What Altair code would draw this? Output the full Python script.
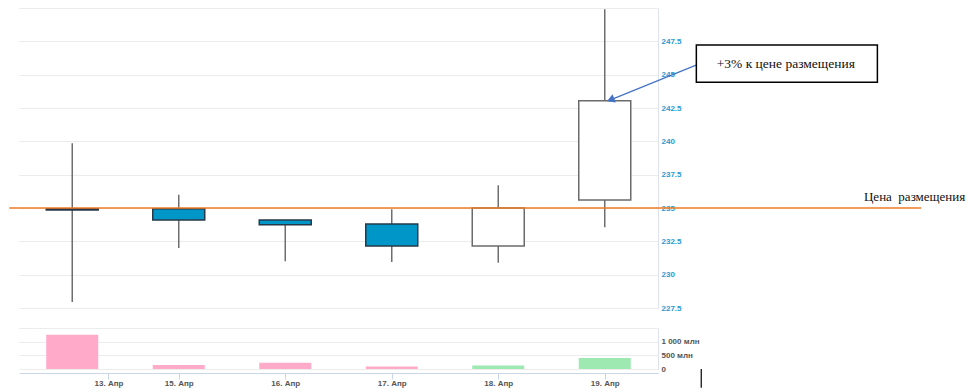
import altair as alt
import pandas as pd

# ---------------- data ----------------
candle_pos = [0, 1, 2, 3, 4, 5]
opens = [234.95, 234.95, 234.10, 233.80, 232.15, 235.60]
closes = [234.85, 234.10, 233.75, 232.15, 235.00, 243.05]
highs = [239.85, 236.00, 234.10, 234.90, 236.70, 249.90]
lows = [227.95, 232.00, 231.00, 230.95, 230.90, 233.55]
volumes = [1250, 150, 225, 90, 130, 400]  # млн

tick_pos = [0.34, 1, 2, 3, 4, 5]
tick_labels = ["13. Апр", "15. Апр", "16. Апр", "17. Апр", "18. Апр", "19. Апр"]
price_ticks = [227.5, 230, 232.5, 235, 237.5, 240, 242.5, 245, 247.5, 250]
volume_ticks = [0, 500, 1000, 1500]
placement_price = 235
placement_label = "Цена\u00a0\u00a0размещения"
note_label = "+3% к цене размещения"

df = pd.DataFrame({
    "pos": candle_pos, "open": opens, "close": closes,
    "high": highs, "low": lows, "volume": volumes,
})
df["dir"] = ["up" if c >= o else "down" for o, c in zip(opens, closes)]

# ---------------- scales / axes ----------------
xs = alt.Scale(domain=[-0.5, 5.5], nice=False, zero=False, padding=0)
ys = alt.Scale(domain=[227.5, 250], nice=False, zero=False)
vs = alt.Scale(domain=[0, 1500], nice=False)

FONT = "Liberation Sans"
price_axis = alt.Axis(
    orient="right", values=price_ticks, title=None, ticks=False,
    labelExpr="datum.value >= 250 ? '' : format(datum.value, '~g')",
    labelColor="#2a9ad0", labelFont=FONT, labelFontSize=8, labelFontWeight="bold",
    labelPadding=3, domainColor="#dde2ec", gridColor="#ececec",
)
vol_axis = alt.Axis(
    orient="right", values=volume_ticks, title=None, ticks=False,
    labelExpr="datum.value >= 1500 ? '' : datum.value == 0 ? '0' : replace(format(datum.value, ','), ',', ' ') + ' млн'",
    labelColor="#555555", labelFont=FONT, labelFontSize=8, labelFontWeight="bold",
    labelPadding=3, domainColor="#dde2ec", gridColor="#ececec",
)
tp = "[" + ",".join(str(v) for v in tick_pos) + "]"
tl = "[" + ",".join("'" + s + "'" for s in tick_labels) + "]"
x_axis = alt.Axis(
    orient="bottom", values=tick_pos, title=None, grid=False,
    labelExpr=f"{tl}[indexof({tp}, datum.value)]",
    offset=4, domainColor="#ccd6eb", tickColor="#ccd6eb", tickSize=6,
    labelColor="#555555", labelFont=FONT, labelFontSize=8, labelFontWeight="bold",
    labelPadding=0,
)

X = lambda f: alt.X(f, scale=xs, axis=None)
Y = lambda f: alt.Y(f, scale=ys, axis=price_axis)

base = alt.Chart(df)
wicks = base.mark_rule(color="#6e6e6e", strokeWidth=1.5).encode(
    x=X("pos:Q"), y=Y("low:Q"), y2="high:Q")
bodies = base.mark_bar(size=52, strokeWidth=1.5).encode(
    x=X("pos:Q"), y=Y("open:Q"), y2="close:Q",
    fill=alt.Fill("dir:N", scale=alt.Scale(domain=["down", "up"], range=["#0096c8", "#ffffff"]), legend=None),
    stroke=alt.Stroke("dir:N", scale=alt.Scale(domain=["down", "up"], range=["#26394a", "#6b6b6b"]), legend=None),
)

# placement price line + label
pl = pd.DataFrame({"x": [-0.59], "x2": [7.97], "y": [placement_price], "tx": [7.434], "label": [placement_label]})
placement = alt.Chart(pl).mark_rule(color="#f07a22", strokeWidth=1.5).encode(
    x=X("x:Q"), x2="x2:Q", y=Y("y:Q"))
placement_text = alt.Chart(pl).mark_text(
    align="left", baseline="bottom", dy=-4, font="Liberation Serif", fontSize=13, color="#111111"
).encode(x=X("tx:Q"), y=Y("y:Q"), text="label:N")

# annotation box + arrow
box = pd.DataFrame({"x": [5.86], "x2": [7.56], "y": [247.22], "y2": [244.44],
                    "tx": [6.70], "ty": [245.83], "label": [note_label]})
box_rect = alt.Chart(box).mark_rect(fill="white", stroke="black", strokeWidth=1.5).encode(
    x=X("x:Q"), x2="x2:Q", y=Y("y:Q"), y2="y2:Q")
box_text = alt.Chart(box).mark_text(
    align="center", baseline="middle", font="Liberation Serif", fontSize=13.5, color="#111111"
).encode(x=X("tx:Q"), y=Y("ty:Q"), text="label:N")
arrow = pd.DataFrame({"x": [5.875], "y": [245.77], "x2": [5.06], "y2": [243.13]})
arrow_line = alt.Chart(arrow).mark_rule(color="#4472c4", strokeWidth=1.2).encode(
    x=X("x:Q"), y=Y("y:Q"), x2="x2:Q", y2="y2:Q")
head = pd.DataFrame({"x": [5.066], "y": [243.15]})
arrow_head = alt.Chart(head).mark_point(
    shape="triangle", filled=True, color="#4472c4", size=80, angle=248, opacity=1
).encode(x=X("x:Q"), y=Y("y:Q"))

price = alt.layer(
    wicks, bodies, placement, placement_text, arrow_line, arrow_head, box_rect, box_text
).properties(width=639, height=300)

# volume panel
vol_bars = base.mark_bar(size=52).encode(
    x=alt.X("pos:Q", scale=xs, axis=x_axis),
    y=alt.Y("volume:Q", scale=vs, axis=vol_axis),
    color=alt.Color("dir:N", scale=alt.Scale(domain=["down", "up"], range=["#ffaac8", "#9ee8b2"]), legend=None),
)
cursor = alt.Chart(pd.DataFrame({"x": [5.906], "y": [0], "y2": [-690]})).mark_rule(
    color="black", strokeWidth=1.2
).encode(x=alt.X("x:Q", scale=xs, axis=x_axis), y=alt.Y("y:Q", scale=vs, axis=vol_axis), y2="y2:Q")
volume = alt.layer(vol_bars, cursor).properties(width=639, height=41)

chart = alt.vconcat(price, volume, spacing=20, bounds="flush").properties(
    padding=0
).configure_view(stroke=None)

chart.save("out.html", embed_options={"renderer": "svg", "actions": False})
